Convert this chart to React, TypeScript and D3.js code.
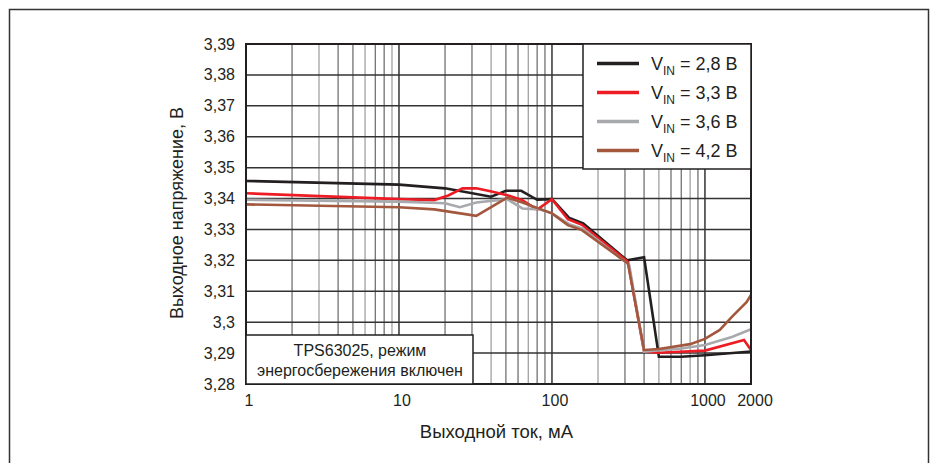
import React from "react";
import * as d3 from "d3";

// Выходное напряжение TPS63025 против выходного тока
const currents28 = [1, 10, 20, 40, 50, 63, 80, 100, 130, 160, 310, 400, 500, 700, 1000, 2000];
const volts28 = [3.3457, 3.3445, 3.3433, 3.3406, 3.3425, 3.3425, 3.3396, 3.3398, 3.3337, 3.332, 3.32, 3.321, 3.2888, 3.2888, 3.2893, 3.2905];

const currents33 = [1, 10, 17, 21, 26, 32, 41, 51, 64, 80, 100, 127, 157, 314, 400, 500, 1000, 1800, 2000];
const volts33 = [3.3417, 3.3398, 3.3395, 3.341, 3.3433, 3.3433, 3.3422, 3.3411, 3.3395, 3.3364, 3.3398, 3.3333, 3.3315, 3.3195, 3.2905, 3.2901, 3.2908, 3.2942, 3.291];

const currents36 = [1, 10, 20, 25, 32, 51, 64, 83, 100, 130, 160, 320, 400, 700, 1000, 1500, 2000];
const volts36 = [3.3396, 3.339, 3.3385, 3.3372, 3.3387, 3.3398, 3.3368, 3.3365, 3.3352, 3.3317, 3.3302, 3.3185, 3.2905, 3.2915, 3.2926, 3.2952, 3.2977];

const currents42 = [1, 10, 17, 32, 51, 64, 100, 127, 157, 314, 400, 500, 800, 1000, 1250, 1500, 1870, 2000];
const volts42 = [3.3381, 3.3372, 3.3365, 3.3344, 3.3403, 3.3387, 3.3352, 3.3314, 3.3298, 3.319, 3.291, 3.2913, 3.2929, 3.2946, 3.2975, 3.3017, 3.3065, 3.3088];

const seriesNames = ["2,8 В", "3,3 В", "3,6 В", "4,2 В"];
const seriesColors = ["#231f20", "#ed1c24", "#a7a9ac", "#a3583e"];

const yTicks = [3.28, 3.29, 3.3, 3.31, 3.32, 3.33, 3.34, 3.35, 3.36, 3.37, 3.38, 3.39];
const xTickLabels = [1, 10, 100, 1000, 2000];

const font = "'Liberation Sans', Arial, sans-serif";

export default function App() {
  const width = 936;
  const height = 463;
  const margin = { top: 44, right: 185, bottom: 79, left: 246 };
  const innerW = width - margin.left - margin.right;
  const innerH = height - margin.top - margin.bottom;

  const x = d3.scaleLog().domain([1, 2000]).range([0, innerW]);
  const y = d3.scaleLinear().domain([3.28, 3.39]).range([innerH, 0]);

  const series = [
    { xs: currents28, ys: volts28 },
    { xs: currents33, ys: volts33 },
    { xs: currents36, ys: volts36 },
    { xs: currents42, ys: volts42 },
  ];

  const line = d3
    .line<[number, number]>()
    .x((d) => x(d[0]))
    .y((d) => y(d[1]));

  // мелкие деления логарифмической сетки
  const minor: number[] = [];
  [1, 10, 100, 1000].forEach((dec) => {
    for (let k = 2; k <= 9; k++) {
      const v = dec * k;
      if (v < 2000) minor.push(v);
    }
  });
  const major = [10, 100, 1000];

  const fmt = (v: number) => d3.format(".2~f")(v).replace(".", ",");

  return (
    <svg
      width={width}
      height={height}
      style={{ position: "absolute", left: 0, top: 0, background: "#fff" }}
      fontFamily={font}
    >
      <rect x={9.5} y={9.5} width={919} height={470} fill="none" stroke="#333" strokeWidth={1.5} />
      <g transform={`translate(${margin.left},${margin.top})`}>
        {minor.map((v, i) => (
          <line
            key={`mn-${v}`}
            x1={x(v)}
            x2={x(v)}
            y1={0}
            y2={innerH}
            stroke={i % 3 === 1 ? "#999" : "#666"}
            strokeWidth={1.2}
          />
        ))}
        {major.map((v) => (
          <line key={`mj-${v}`} x1={x(v)} x2={x(v)} y1={0} y2={innerH} stroke="#333" strokeWidth={1.5} />
        ))}
        {yTicks.map((v) => (
          <line key={`h-${v}`} x1={0} x2={innerW} y1={y(v)} y2={y(v)} stroke="#333" strokeWidth={1.5} />
        ))}

        {series.map((s, i) => (
          <path
            key={`s-${i}`}
            d={line(s.xs.map((c, j) => [c, s.ys[j]] as [number, number])) || ""}
            fill="none"
            stroke={seriesColors[i]}
            strokeWidth={2.6}
            strokeLinejoin="miter"
          />
        ))}

        <rect x={0} y={0} width={innerW} height={innerH} fill="none" stroke="#231f20" strokeWidth={2} />

        {/* легенда */}
        <g transform={`translate(${innerW - 168},0)`}>
          <rect x={0} y={0} width={168} height={125} fill="#fff" stroke="#231f20" strokeWidth={1.5} />
          {seriesNames.map((name, i) => (
            <g key={`lg-${i}`} transform={`translate(0,${19.5 + i * 29})`}>
              <line x1={14} x2={56} y1={0} y2={0} stroke={seriesColors[i]} strokeWidth={3.5} />
              <text x={68} y={6} fontSize={18} fill="#231f20">
                V<tspan fontSize={12} dy={5}>IN</tspan>
                <tspan dy={-5}> = {name}</tspan>
              </text>
            </g>
          ))}
        </g>

        {/* подпись */}
        <rect x={0} y={innerH - 49} width={227} height={49} fill="#fff" stroke="#231f20" strokeWidth={1.5} />
        <text x={114} y={innerH - 28} textAnchor="middle" fontSize={16} fill="#231f20">
          TPS63025, режим
        </text>
        <text x={114} y={innerH - 8} textAnchor="middle" fontSize={16} fill="#231f20">
          энергосбережения включен
        </text>

        {yTicks.map((v) => (
          <text key={`yt-${v}`} x={-11} y={y(v) + 5.5} textAnchor="end" fontSize={16} fill="#231f20">
            {fmt(v)}
          </text>
        ))}
        {xTickLabels.map((v) => (
          <text
            key={`xt-${v}`}
            x={x(v) + (v === 2000 ? 4 : 3)}
            y={innerH + 22}
            textAnchor="middle"
            fontSize={16}
            fill="#231f20"
          >
            {v}
          </text>
        ))}

        <text x={innerW / 2 - 2} y={innerH + 54} textAnchor="middle" fontSize={18.5} fill="#231f20">
          Выходной ток, мА
        </text>
        <text
          transform={`translate(${-63},${innerH / 2 - 1}) rotate(-90)`}
          textAnchor="middle"
          fontSize={18}
          fill="#231f20"
        >
          Выходное напряжение, В
        </text>
      </g>
    </svg>
  );
}
